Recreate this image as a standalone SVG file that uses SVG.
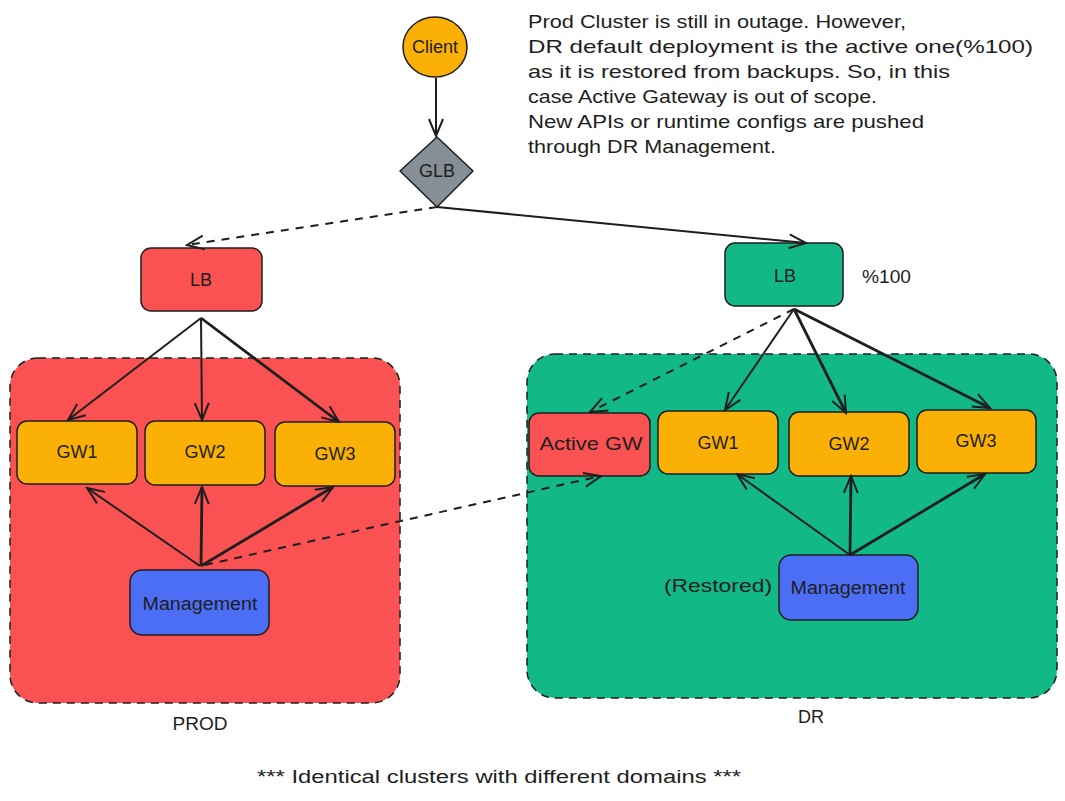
<svg xmlns="http://www.w3.org/2000/svg" width="1065" height="801" viewBox="0 0 1065 801">
<style>
text{font-family:"Liberation Sans",Arial,sans-serif;fill:#1e1e1e}
.lbl{font-size:18px;text-anchor:middle;dominant-baseline:central}
.note{font-size:19px}
.box{stroke:#1e1e1e;stroke-width:1.5}
.red{fill:#fa5252}
.green{fill:#12b886}
.orange{fill:#fab005}
.blue{fill:#4c6ef5}
.gray{fill:#868e96}
.cluster{stroke:#1e1e1e;stroke-width:1.5;stroke-dasharray:8 6}
.c{fill:none;stroke:#1e1e1e;stroke-width:2;marker-end:url(#arr)}
.d{stroke-dasharray:8 7}
.t{stroke-width:2.8}
</style>
<defs>
<marker id="arr" markerUnits="userSpaceOnUse" markerWidth="22" markerHeight="22" viewBox="0 0 22 22" refX="20" refY="11" orient="auto">
<path d="M3,4 L20,11 L3,18" fill="none" stroke="#1e1e1e" stroke-width="2"/>
</marker>
</defs>

<g id="prod-cluster">
<rect class="cluster red" x="10" y="358" width="390" height="345" rx="28"/>
<text x="200" y="724" class="lbl" textLength="55" lengthAdjust="spacingAndGlyphs">PROD</text>
</g>
<g id="dr-cluster">
<rect class="cluster green" x="527" y="354" width="530" height="344" rx="28"/>
<text x="811" y="717" class="lbl">DR</text>
</g>

<g id="client">
<ellipse class="box orange" cx="435" cy="47" rx="32" ry="30"/>
<text x="435" y="47" class="lbl">Client</text>
</g>
<g id="glb">
<path class="box gray" d="M437,137 L473,171 L437,207 L400,171 Z" stroke-linejoin="round"/>
<text x="437" y="171" class="lbl">GLB</text>
</g>
<g id="note">
<text class="note" x="528" y="28" textLength="378" lengthAdjust="spacingAndGlyphs">Prod Cluster is still in outage. However,</text>
<text class="note" x="528" y="53" textLength="505" lengthAdjust="spacingAndGlyphs">DR default deployment is the active one(%100)</text>
<text class="note" x="528" y="78" textLength="422" lengthAdjust="spacingAndGlyphs">as it is restored from backups. So, in this</text>
<text class="note" x="528" y="103" textLength="349" lengthAdjust="spacingAndGlyphs">case Active Gateway is out of scope.</text>
<text class="note" x="528" y="128" textLength="396" lengthAdjust="spacingAndGlyphs">New APIs or runtime configs are pushed</text>
<text class="note" x="528" y="153" textLength="248" lengthAdjust="spacingAndGlyphs">through DR Management.</text>
</g>

<g id="prod-lb">
<rect class="box red" x="141" y="248" width="121" height="63" rx="10"/>
<text x="201" y="280" class="lbl">LB</text>
</g>
<g id="dr-lb">
<rect class="box green" x="725" y="243" width="118" height="63" rx="10"/>
<text x="785" y="276" class="lbl">LB</text>
</g>
<text x="862" y="277" style="font-size:18px;dominant-baseline:central" textLength="49" lengthAdjust="spacingAndGlyphs">%100</text>

<g id="prod-gw1"><rect class="box orange" x="17" y="421" width="120" height="63" rx="10"/><text x="77" y="452" class="lbl">GW1</text></g>
<g id="prod-gw2"><rect class="box orange" x="145" y="421" width="120" height="64" rx="10"/><text x="205" y="452" class="lbl">GW2</text></g>
<g id="prod-gw3"><rect class="box orange" x="275" y="422" width="120" height="64" rx="10"/><text x="335" y="454" class="lbl">GW3</text></g>
<g id="prod-mgmt"><rect class="box blue" x="130" y="570" width="139" height="65" rx="12"/><text x="200" y="604" class="lbl" textLength="115" lengthAdjust="spacingAndGlyphs">Management</text></g>

<g id="dr-active-gw"><rect class="box red" x="529" y="413" width="121" height="63" rx="10"/><text x="591" y="444" class="lbl" textLength="103" lengthAdjust="spacingAndGlyphs">Active GW</text></g>
<g id="dr-gw1"><rect class="box orange" x="658" y="411" width="120" height="63" rx="10"/><text x="718" y="443" class="lbl">GW1</text></g>
<g id="dr-gw2"><rect class="box orange" x="789" y="412" width="120" height="64" rx="10"/><text x="849" y="444" class="lbl">GW2</text></g>
<g id="dr-gw3"><rect class="box orange" x="917" y="410" width="119" height="63" rx="10"/><text x="976" y="441" class="lbl">GW3</text></g>
<g id="dr-mgmt"><rect class="box blue" x="779" y="555" width="139" height="65" rx="12"/><text x="848" y="588" class="lbl" textLength="115" lengthAdjust="spacingAndGlyphs">Management</text></g>
<text x="718" y="586" class="lbl" textLength="108" lengthAdjust="spacingAndGlyphs">(Restored)</text>

<text x="499" y="777" class="lbl" textLength="484" lengthAdjust="spacingAndGlyphs">*** Identical clusters with different domains ***</text>

<g id="connectors">
<path class="c" d="M436,78 L436,136"/>
<path class="c d" d="M437,207 L187,245"/>
<path class="c" d="M437,207 L806,243"/>
<path class="c" d="M201,318 L68,420"/>
<path class="c" d="M201,318 L202,420"/>
<path class="c t" d="M201,318 L339,422"/>
<path class="c" d="M200,566 L87,488"/>
<path class="c t" d="M201,566 L202,487"/>
<path class="c t" d="M201,566 L333,487"/>
<path class="c d" d="M205,565 L601,476"/>
<path class="c d" d="M794,309 L590,412"/>
<path class="c" d="M794,309 L725,410"/>
<path class="c t" d="M794,309 L846,413"/>
<path class="c t" d="M794,309 L990,408"/>
<path class="c" d="M850,555 L737,474"/>
<path class="c t" d="M850,555 L851,476"/>
<path class="c t" d="M850,555 L985,474"/>
</g>
</svg>
